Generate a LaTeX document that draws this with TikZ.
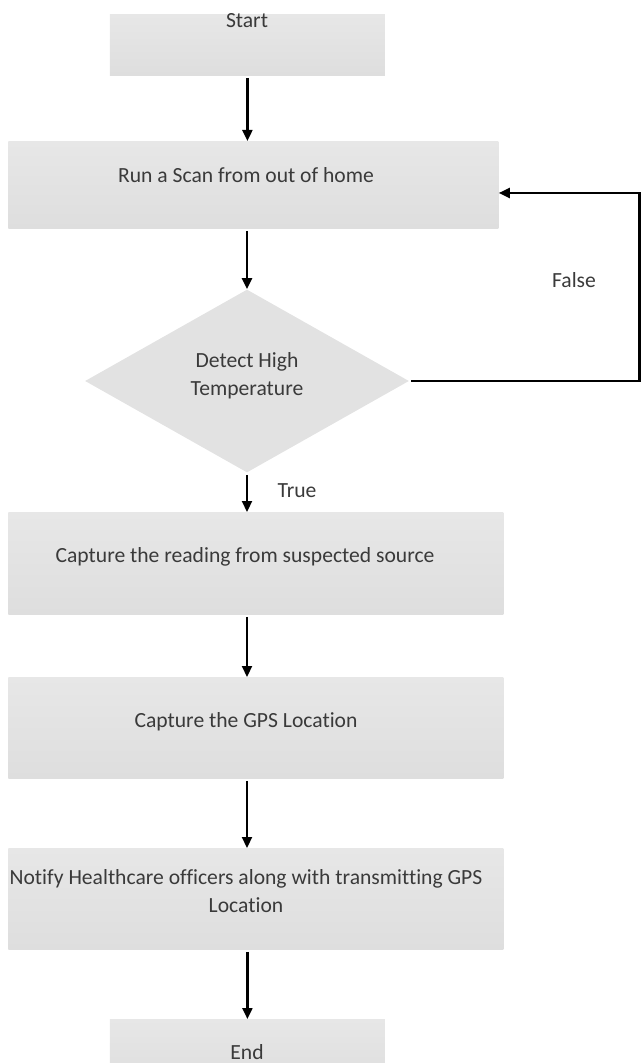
\documentclass[tikz,border=0pt]{standalone}
\usepackage{fontspec}
\setmainfont{Carlito}[Ligatures=NoCommon]
\usepackage{tikz}
\usetikzlibrary{
  calc, shapes.geometric, arrows.meta
}
\definecolor{boxtop}{RGB}{231,231,231}
\definecolor{boxbot}{RGB}{222,222,222}
\definecolor{boxgray}{RGB}{226,226,226}
\definecolor{txtgray}{RGB}{58,58,58}

\begin{document}
\begin{tikzpicture}[x=0.5pt, y=-0.5pt,
    flowbox/.style={rectangle, top color=boxtop, bottom color=boxbot, draw=none, inner sep=0pt, anchor=north west},
    flowtext/.style={text=txtgray, font=\fontsize{10.8}{13.6}\selectfont, inner sep=0pt, anchor=base},
    flow/.style={line width=1.1pt, shorten <=1pt, -{Triangle[length=5.5pt, width=5pt]}}
  ]
        \useasboundingbox (0,0) rectangle (641,1063);
        \coordinate (back) at (639.5,193);
        \node[flowbox, minimum width=137.5pt, minimum height=30.5pt] (start) at (109.5,14) {};
        \node[flowbox, minimum width=245pt, minimum height=43.5pt] (scan) at (8,141) {};
        \node[diamond, fill=boxgray, inner sep=0pt, minimum width=162pt, minimum height=91.5pt] (dec) at (247,381) {};
        \node[flowbox, minimum width=247.5pt, minimum height=51pt] (read) at (8,512) {};
        \node[flowbox, minimum width=247.5pt, minimum height=50.5pt] (gps) at (8,677) {};
        \node[flowbox, minimum width=247.5pt, minimum height=50.5pt] (notify) at (8,848) {};
        \node[flowbox, minimum width=137.5pt, minimum height=30pt] (end) at (109.5,1019) {};
        % texts
        \node[flowtext] (starttext) at (247,28) {Start};
        \node[flowtext] (scantext) at (246,183) {Run a Scan from out of home};
        \node[flowtext, align=center] (dectext) at (247,395) {Detect High\\Temperature};
        \node[flowtext] (truetext) at (297,497) {True};
        \node[flowtext] (falsetext) at (574,288) {False};
        \node[flowtext] (readtext) at (245,562) {Capture the reading from suspected source};
        \node[flowtext] (gpstext) at (246,727) {Capture the GPS Location};
        \node[flowtext, align=center] (notifytext) at (246,912) {Notify Healthcare officers along with transmitting GPS\\Location};
        \node[flowtext] (endtext) at (247,1059) {End};
        % arrows
        \draw[flow] (start.south) -- (start.south |- scan.north);
        \draw[flow] (dec.north |- scan.south) -- (dec.north);
        \draw[flow] (dec.south) -- (dec.south |- read.north);
        \draw[flow] (dec.south |- read.south) -- (dec.south |- gps.north);
        \draw[flow] (dec.south |- gps.south) -- (dec.south |- notify.north);
        \draw[flow] (end.north |- notify.south) -- (end.north);
        \draw[flow] (dec.east) -| (back) -- (back -| scan.east);
    \end{tikzpicture}
\end{document}
